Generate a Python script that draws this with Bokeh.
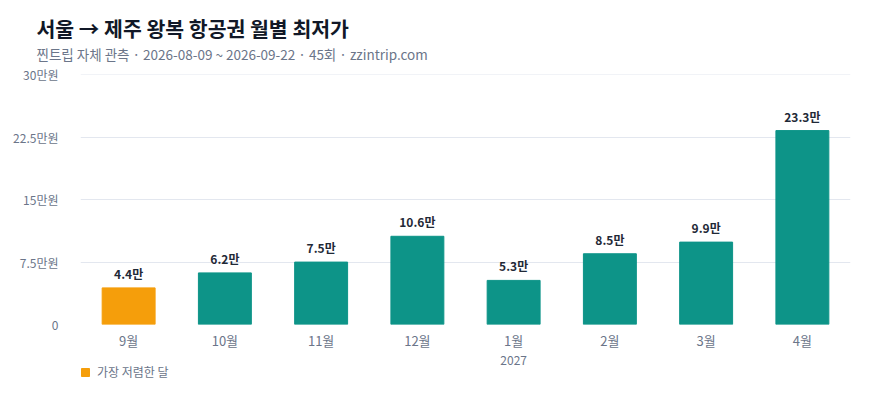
from bokeh.plotting import figure
from bokeh.models import (ColumnDataSource, FixedTicker, Legend, LegendItem, FactorRange,
                          Range1d, Title)
from bokeh.layouts import column
from bokeh.core.properties import value
from bokeh.embed import file_html
from bokeh.resources import INLINE

# 데이터
months = ["9월", "10월", "11월", "12월", "1월", "2월", "3월", "4월"]
prices = [44000, 62000, 75000, 106000, 53000, 85000, 99000, 233000]
cheapest = "9월"
y_ticks = [0, 75000, 150000, 225000, 300000]
y_tick_labels = ["0", "7.5만원", "15만원", "22.5만원", "30만원"]
year_month = ["1월"]
year_text = ["2027"]

FONT = "Noto Sans CJK KR"
TEAL = "#0d9488"
ORANGE = "#f59e0b"
GRAY = "#6b7589"

colors = [ORANGE if m == cheapest else TEAL for m in months]
labels = ["%.1f만" % (v / 10000) for v in prices]
src = ColumnDataSource(dict(m=months, v=prices, c=colors, lab=labels))

p = figure(x_range=FactorRange(*months), y_range=Range1d(0, 300400),
           width=864, height=352, output_backend="svg", toolbar_location=None,
           min_border_left=80, min_border_right=14, min_border_top=74, min_border_bottom=27)
p.x_range.range_padding = 0
p.outline_line_color = None

p.vbar(x="m", top="v", width=0.55, color="c", source=src)
p.text(x="m", y="v", text="lab", source=src, y_offset=-6, text_align="center",
       text_baseline="bottom", text_font=value(FONT), text_font_size="12px",
       text_font_style="bold", text_color="#1f2937")

# y축
p.yaxis.ticker = FixedTicker(ticks=y_ticks)
p.yaxis.major_label_overrides = {t: l for t, l in zip(y_ticks, y_tick_labels)}
p.yaxis.axis_line_color = None
p.yaxis.major_tick_line_color = None
p.yaxis.minor_tick_line_color = None
p.yaxis.major_tick_out = 0
p.yaxis.major_tick_in = 0
p.yaxis.major_label_standoff = 22
p.yaxis.major_label_text_font = FONT
p.yaxis.major_label_text_font_size = "12px"
p.yaxis.major_label_text_color = GRAY
p.ygrid.grid_line_color = "#e3e7ef"
p.xgrid.grid_line_color = None

# x축
p.xaxis.axis_line_color = None
p.xaxis.major_tick_line_color = None
p.xaxis.major_tick_out = 0
p.xaxis.major_tick_in = 0
p.xaxis.major_label_text_font = FONT
p.xaxis.major_label_text_font_size = "13px"
p.xaxis.major_label_text_color = GRAY
p.xaxis.major_label_standoff = 6

# 제목
p.title.text = ""
p.add_layout(Title(text="찐트립 자체 관측 · 2026-08-09 ~ 2026-09-22 · 45회 · zzintrip.com",
                   align="left", offset=-44, standoff=22, text_font=FONT,
                   text_font_size="13.5px", text_font_style="normal", text_color=GRAY), "above")
p.add_layout(Title(text="서울 → 제주 왕복 항공권 월별 최저가", align="left", offset=-44,
                   standoff=-25, text_font=FONT, text_font_size="20.5px", text_font_style="bold",
                   text_color="#111827"), "above")

# 아래쪽: 연도 표시와 범례
p2 = figure(x_range=p.x_range, y_range=Range1d(0, 1), width=864, height=32,
            output_backend="svg", toolbar_location=None, x_axis_location=None,
            y_axis_location=None, min_border_left=80, min_border_right=14,
            min_border_top=0, min_border_bottom=0)
p2.outline_line_color = None
p2.grid.visible = False
p2.text(x=year_month, y=[p2.y_range.end], text=year_text, y_offset=8, text_align="center",
        text_baseline="middle", text_font=value(FONT), text_font_size="12px", text_color=GRAY)

cheap_src = ColumnDataSource(dict(m=[cheapest], v=[0]))
sw = p2.vbar(x="m", top="v", width=0.55, color=ORANGE, source=cheap_src)
legend = Legend(items=[LegendItem(label="가장 저렴한 달", renderers=[sw])],
                location=(0, 4), orientation="horizontal", border_line_color=None,
                background_fill_alpha=0, padding=0, margin=0, glyph_width=10, glyph_height=10,
                label_text_font=FONT, label_text_font_size="12px", label_text_color=GRAY,
                label_standoff=7, label_height=10)
p2.add_layout(legend)

open("out.html", "w").write(file_html(column(p, p2), INLINE))
